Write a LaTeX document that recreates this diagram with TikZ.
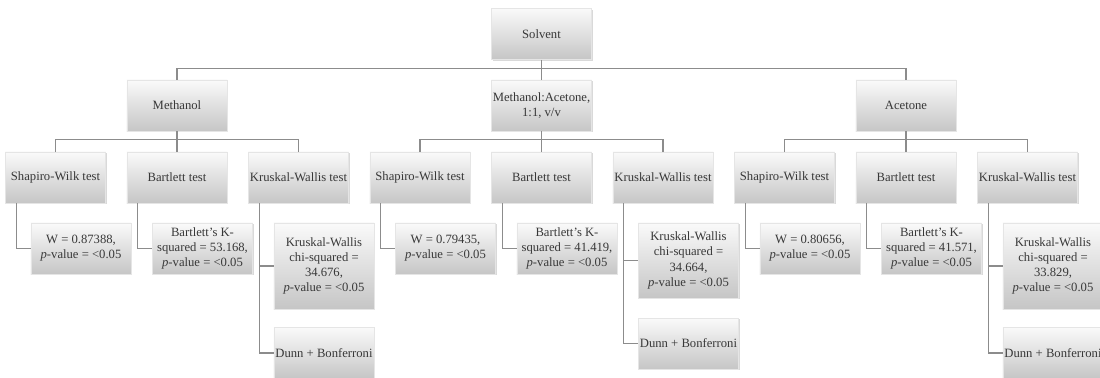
\documentclass[tikz,border=0pt]{standalone}
\usepackage{fontspec}
\setmainfont{Liberation Serif}
\usetikzlibrary{shadows,calc}

\tikzset{
  box/.style={minimum width=2.5cm, minimum height=1.275cm, inner sep=1pt, align=center,
    top color=gray!4, bottom color=gray!45, draw=gray!20, text=black!78,
    font=\fontsize{9}{10.8}\selectfont,
    drop shadow={shadow xshift=0.8pt, shadow yshift=-0.8pt, opacity=0.3}},
  conn/.style={draw=gray!90, line width=0.9pt}
}

\begin{document}
\begin{tikzpicture}[x=0.025cm, y=-0.025cm]
\useasboundingbox (0,0) rectangle (1100,377);

\node[box] (solvent) at (541.5,34) {Solvent};
\node[box] (meth) at (177,105.5) {Methanol};
\node[box] (mix) at (541.5,105.5) {Methanol:Acetone,\\1:1, v/v};
\node[box] (acet) at (906,105.5) {Acetone};

\draw[conn] (solvent.south) -- (mix.north);
\draw[conn] (meth.north) -- ++(0,-11) -| (acet.north);

% three tests per solvent
\foreach \s/\x in {meth/55.5, mix/420, acet/784.5}{
	\node[box] (\s-sw) at (\x,177.5) {Shapiro-Wilk test};
	\node[box] (\s-bt) at (\x+121.5,177.5) {Bartlett test};
	\node[box] (\s-kw) at (\x+243,177.5) {Kruskal-Wallis test};
	\draw[conn] (\s.south) -- (\s-bt.north);
	\draw[conn] (\s-sw.north) -- ++(0,-12) -| (\s-kw.north);
}

% results
\foreach \s/\x/\w/\k/\c/\ky/\kh/\dy in {meth/55.5/0.87388/53.168/34.676/266/2.15cm/353,
	mix/420/0.79435/41.419/34.664/260.5/1.875cm/343.5,
	acet/784.5/0.80656/41.571/33.829/266/2.15cm/353}{
	\node[box] (\s-w) at (\x+25.5,248.5) {W = \w,\\\textit{p}-value = <0.05};
	\node[box] (\s-k) at (\x+147,248.5) {Bartlett's K-\\squared = \k,\\\textit{p}-value = <0.05};
	\node[box, minimum height=\kh] (\s-c) at (\x+268.5,\ky) {Kruskal-Wallis\\chi-squared =\\\c,\\\textit{p}-value = <0.05};
	\node[box] (\s-dunn) at (\x+268.5,\dy) {Dunn + Bonferroni};
	\draw[conn] ($(\s-sw.south west)+(11,0)$) |- (\s-w.west);
	\draw[conn] ($(\s-bt.south west)+(11,0)$) |- (\s-k.west);
	\draw[conn] ($(\s-kw.south west)+(11,0)$) |- (\s-c.west);
	\draw[conn] ($(\s-kw.south west)+(11,0)$) |- (\s-dunn.west);
}

\end{tikzpicture}
\end{document}
